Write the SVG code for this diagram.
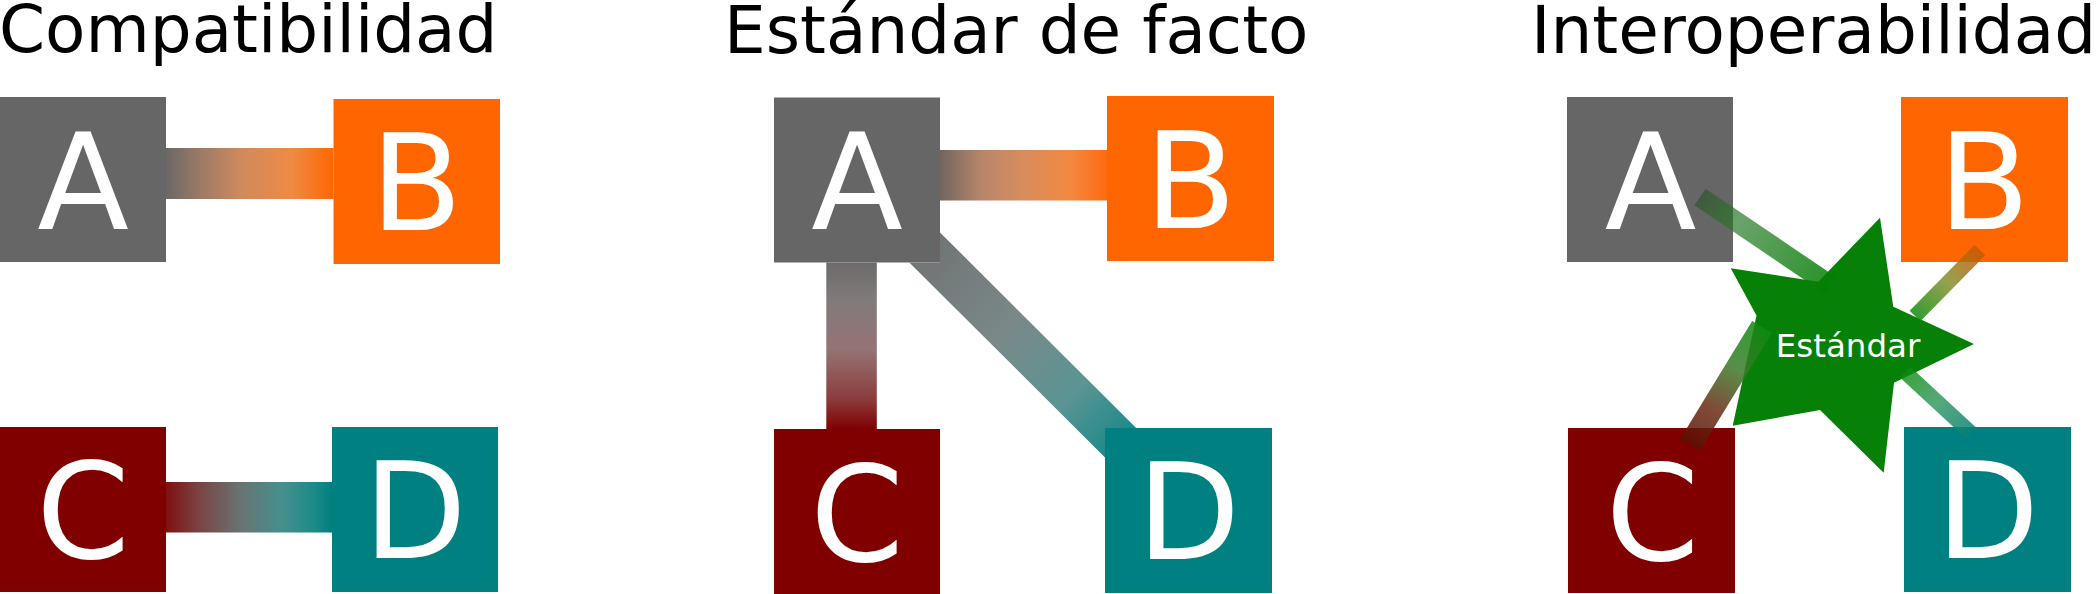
<svg xmlns="http://www.w3.org/2000/svg" width="2096" height="594" viewBox="0 0 2096 594">
  <style>
    .title { font-family: "DejaVu Sans", "Liberation Sans", sans-serif; font-size: 66px; fill: #000000; }
    .letter { font-family: "DejaVu Sans", "Liberation Sans", sans-serif; font-size: 134px; fill: #ffffff; text-anchor: middle; }
    .star-label { font-family: "DejaVu Sans", "Liberation Sans", sans-serif; font-size: 32.5px; fill: #ffffff; text-anchor: middle; }
    .gray { fill: #666666; }
    .orange { fill: #ff6600; }
    .maroon { fill: #800000; }
    .teal { fill: #008080; }
    .link3 { fill: none; stroke-linecap: butt; }
  </style>
  <defs>
    <linearGradient id="gAB1" gradientUnits="userSpaceOnUse" x1="166" y1="0" x2="333.5" y2="0">
      <stop offset="0" stop-color="#6c6866"/>
      <stop offset="0.2" stop-color="#9a7a66"/>
      <stop offset="0.45" stop-color="#d08a5c"/>
      <stop offset="0.75" stop-color="#ef8a44"/>
      <stop offset="1" stop-color="#ff6600"/>
    </linearGradient>
    <linearGradient id="gCD1" gradientUnits="userSpaceOnUse" x1="166" y1="0" x2="332" y2="0">
      <stop offset="0" stop-color="#801010"/>
      <stop offset="0.2" stop-color="#7a4444"/>
      <stop offset="0.45" stop-color="#687472"/>
      <stop offset="0.7" stop-color="#44908e"/>
      <stop offset="0.9" stop-color="#1a8a88"/>
      <stop offset="1" stop-color="#008080"/>
    </linearGradient>
    <linearGradient id="gAB2" gradientUnits="userSpaceOnUse" x1="940" y1="0" x2="1107" y2="0">
      <stop offset="0" stop-color="#72665f"/>
      <stop offset="0.25" stop-color="#b8866a"/>
      <stop offset="0.5" stop-color="#d98c5c"/>
      <stop offset="0.78" stop-color="#f28840"/>
      <stop offset="1" stop-color="#ff6a10"/>
    </linearGradient>
    <linearGradient id="gAC2" gradientUnits="userSpaceOnUse" x1="0" y1="262" x2="0" y2="429">
      <stop offset="0" stop-color="#6c6a6a"/>
      <stop offset="0.23" stop-color="#827a7a"/>
      <stop offset="0.52" stop-color="#957474"/>
      <stop offset="0.82" stop-color="#8c3c3c"/>
      <stop offset="1" stop-color="#800000"/>
    </linearGradient>
    <linearGradient id="gAD2" gradientUnits="userSpaceOnUse" x1="857" y1="180" x2="1188.5" y2="510.5">
      <stop offset="0.2" stop-color="#707474"/>
      <stop offset="0.45" stop-color="#7a8888"/>
      <stop offset="0.65" stop-color="#5a9494"/>
      <stop offset="0.8" stop-color="#1a8a88"/>
    </linearGradient>
    <linearGradient id="gA3" gradientUnits="userSpaceOnUse" x1="1700" y1="197" x2="1830" y2="285">
      <stop offset="0" stop-color="#2f552f" stop-opacity="0.7"/>
      <stop offset="0.3" stop-color="#2a7a2a" stop-opacity="0.7"/>
      <stop offset="1" stop-color="#008000" stop-opacity="0.85"/>
    </linearGradient>
    <linearGradient id="gB3" gradientUnits="userSpaceOnUse" x1="1980" y1="250" x2="1915" y2="316">
      <stop offset="0" stop-color="#c85808" stop-opacity="0.85"/>
      <stop offset="0.5" stop-color="#7a8a20" stop-opacity="0.8"/>
      <stop offset="1" stop-color="#108a10" stop-opacity="0.85"/>
    </linearGradient>
    <linearGradient id="gC3" gradientUnits="userSpaceOnUse" x1="1690" y1="445" x2="1762" y2="327">
      <stop offset="0" stop-color="#5a1006" stop-opacity="0.85"/>
      <stop offset="0.3" stop-color="#6a2a14" stop-opacity="0.85"/>
      <stop offset="0.65" stop-color="#3a7a2a" stop-opacity="0.85"/>
      <stop offset="1" stop-color="#108a10" stop-opacity="0.85"/>
    </linearGradient>
    <linearGradient id="gD3" gradientUnits="userSpaceOnUse" x1="1905" y1="372" x2="1971" y2="433">
      <stop offset="0" stop-color="#0a8a0a" stop-opacity="0.8"/>
      <stop offset="0.5" stop-color="#2a945a" stop-opacity="0.8"/>
      <stop offset="1" stop-color="#0a8078" stop-opacity="0.85"/>
    </linearGradient>
  </defs>

  <!-- Titles -->
  <text class="title" x="-1" y="52">Compatibilidad</text>
  <text class="title" x="724" y="53">Estándar de facto</text>
  <text class="title" x="1531" y="53">Interoperabilidad</text>

  <!-- Panel 1 nodes -->
  <g id="p1-A"><rect class="gray" x="0" y="97" width="166" height="165"/><text class="letter" x="83" y="229">A</text></g>
  <g id="p1-B"><rect class="orange" x="333.5" y="99" width="166.5" height="165"/><text class="letter" x="416.5" y="230">B</text></g>
  <g id="p1-C"><rect class="maroon" x="0" y="427" width="166" height="165"/><text class="letter" x="83" y="558">C</text></g>
  <g id="p1-D"><rect class="teal" x="332" y="427" width="166" height="165"/><text class="letter" x="415" y="558">D</text></g>

  <!-- Panel 2 nodes -->
  <g id="p2-A"><rect class="gray" x="774" y="97.5" width="166" height="165"/><text class="letter" x="857" y="229">A</text></g>
  <g id="p2-B"><rect class="orange" x="1107" y="96" width="167" height="165"/><text class="letter" x="1190.5" y="228">B</text></g>
  <g id="p2-C"><rect class="maroon" x="774" y="429" width="166" height="165"/><text class="letter" x="857" y="561">C</text></g>
  <g id="p2-D"><rect class="teal" x="1105" y="428" width="167" height="165"/><text class="letter" x="1188.5" y="559">D</text></g>

  <!-- Panel 3 nodes -->
  <g id="p3-A"><rect class="gray" x="1567" y="97" width="166" height="165"/><text class="letter" x="1650.5" y="229">A</text></g>
  <g id="p3-B"><rect class="orange" x="1901" y="97" width="167" height="165"/><text class="letter" x="1984" y="229">B</text></g>
  <g id="p3-C"><rect class="maroon" x="1568" y="428" width="167" height="165"/><text class="letter" x="1652.5" y="560">C</text></g>
  <g id="p3-D"><rect class="teal" x="1904" y="427" width="167" height="165"/><text class="letter" x="1987.5" y="558">D</text></g>

  <g id="p3-standard">
    <polygon fill="#068006" points="1880,217.7 1893.3,306.7 1974,344 1894,382.7 1883.7,472.7 1820,410 1732.7,425.7 1756.5,315.5 1730.7,268.3 1818.3,281.7"/>
  </g>

  <!-- Connectors -->
  <g id="connectors">
    <rect x="166" y="148" width="167.5" height="51" fill="url(#gAB1)"/>
    <rect x="166" y="482" width="166" height="50.5" fill="url(#gCD1)"/>
    <rect x="940" y="150" width="167" height="50.5" fill="url(#gAB2)"/>
    <rect x="826.3" y="262.5" width="50.5" height="166.5" fill="url(#gAC2)"/>
    <polygon points="940,232.4 1136.2,428 1105,428 1105,457.6 909.3,262.5 940,262.5" fill="url(#gAD2)"/>
    <line class="link3" x1="1700" y1="197" x2="1830" y2="285" stroke="url(#gA3)" stroke-width="20"/>
    <line class="link3" x1="1980" y1="250" x2="1915" y2="316" stroke="url(#gB3)" stroke-width="15"/>
    <line class="link3" x1="1690" y1="445" x2="1762" y2="327" stroke="url(#gC3)" stroke-width="23"/>
    <line class="link3" x1="1905" y1="372" x2="1971" y2="433" stroke="url(#gD3)" stroke-width="15"/>
  </g>

  <text class="star-label" x="1848" y="357">Estándar</text>
</svg>
